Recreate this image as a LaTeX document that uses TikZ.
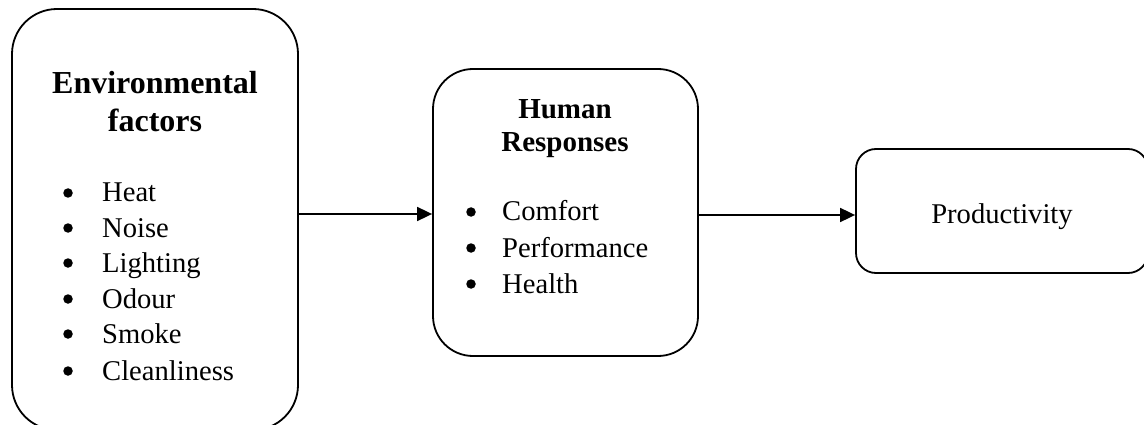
\documentclass[tikz,border=0pt]{standalone}
\usepackage{fontspec}
\setmainfont{Liberation Serif}
\usetikzlibrary{arrows.meta}
\begin{document}
\begin{tikzpicture}[x=1pt,y=-1pt,
  box/.style={draw, line width=1.8pt, rectangle, inner sep=0pt},
  arr/.style={line width=1.8pt, -{Triangle[length=15pt,width=14pt]}},
  txt/.style={inner sep=0pt, font=\fontsize{28.6}{35}\selectfont},
  head/.style={txt, anchor=base, font=\fontsize{32}{38}\selectfont\bfseries},
  subhead/.style={txt, anchor=base, font=\fontsize{29}{35}\selectfont\bfseries},
  item/.style={txt, anchor=base west},
  dot/.style={circle, fill, inner sep=0pt, minimum size=9.5pt}]
\useasboundingbox (0,0) rectangle (1144,425);
\begin{scope}
\clip (0,0) rectangle (1144,425);
% boxes
\node[box, rounded corners=45pt, minimum width=286pt, minimum height=421pt] (env) at (155,219.5) {};
\node[box, rounded corners=40pt, minimum width=265pt, minimum height=287pt] (hr) at (565.5,212.5) {};
\node[box, rounded corners=20pt, minimum width=292pt, minimum height=124pt] (prod) at (1002,211) {};
\end{scope}
% environmental factors
\node[head] (envh1) at (155,94) {Environmental};
\node[head] (envh2) at (155,132) {factors};
\foreach \t/\y/\n in {Heat/202/a, Noise/237/b, Lighting/272/c, Odour/308/d, Smoke/343/e, Cleanliness/380/f}{
  \node[dot] (envd\n) at (68,\y-9) {};
  \node[item] (envi\n) at (102,\y) {\t};
}
% human responses
\node[subhead] (hrh1) at (565,119) {Human};
\node[subhead] (hrh2) at (565,152) {Responses};
\foreach \t/\y/\n in {Comfort/221/a, Performance/257/b, Health/293/c}{
  \node[dot] (hrd\n) at (471,\y-9) {};
  \node[item] (hri\n) at (502,\y) {\t};
}
% productivity
\node[txt, anchor=base] (prodt) at (1002,223) {Productivity};
% connectors
\draw[arr] ([yshift=5.5pt]env.east) -- ([yshift=5.5pt]env.east -| hr.west);
\draw[arr] ([yshift=-2.5pt]hr.east) -- ([yshift=-2.5pt]hr.east -| prod.west);
\end{tikzpicture}
\end{document}
